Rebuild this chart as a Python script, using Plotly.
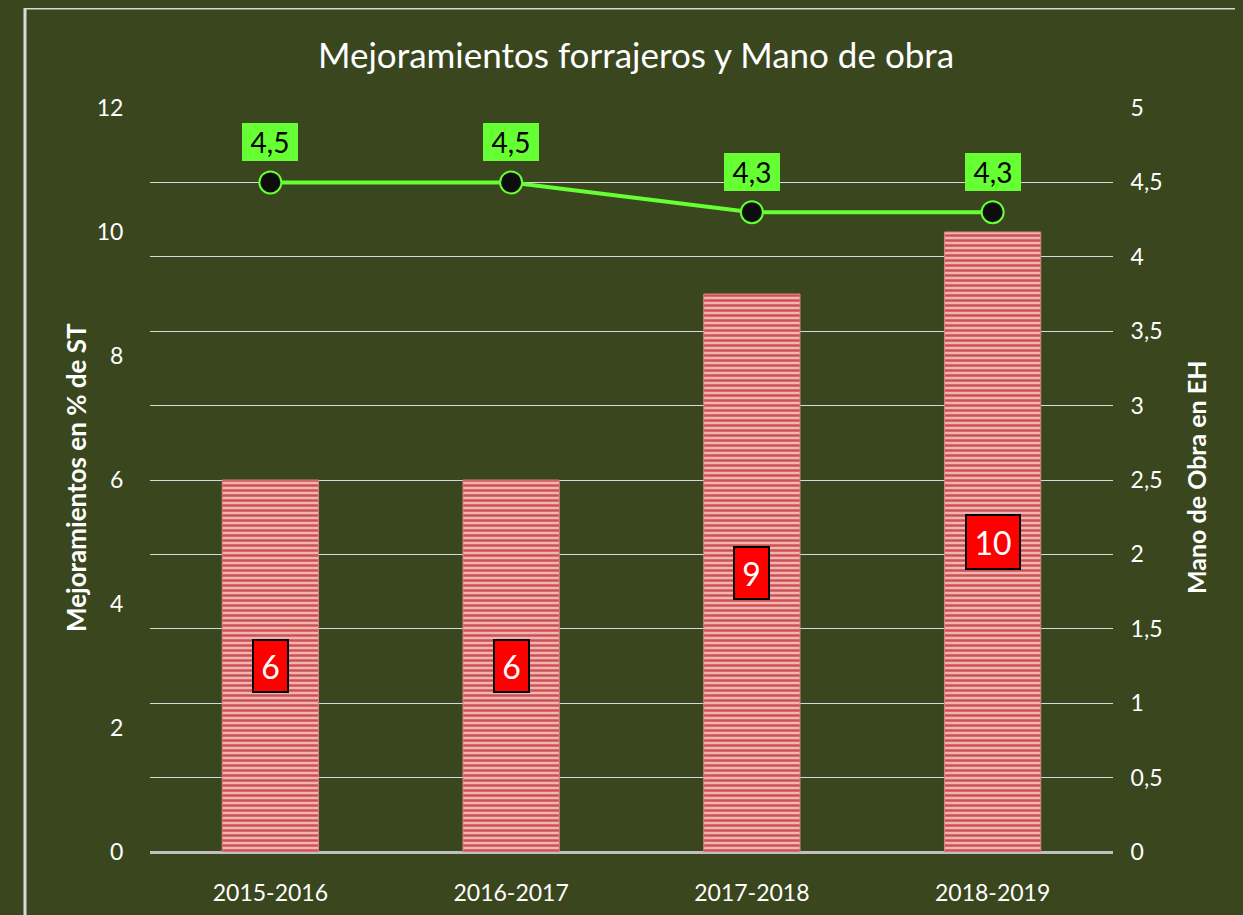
import plotly.graph_objects as go

categories = ["2015-2016", "2016-2017", "2017-2018", "2018-2019"]
mejoramientos = [6, 6, 9, 10]
mano_obra = [4.5, 4.5, 4.3, 4.3]
mano_obra_labels = ["4,5", "4,5", "4,3", "4,3"]

BG = "#3a461e"
GREEN = "#66ff33"
FONT = "Lato"

# page body has an 8px margin; figure is sized/offset to compensate
OFF = 8
W, H = 1243 - OFF, 915 - OFF
L = 150 - OFF
T = 108 - OFF
PW = 963
PH = 852 - 108
R = W - L - PW
B = H - T - PH


def px_x(p):  # window pixel -> paper
    return (p - OFF - L) / PW


def px_y(p):
    return (T + PH - (p - OFF)) / PH


fig = go.Figure()

fig.add_trace(go.Bar(
    x=categories, y=mejoramientos, yaxis="y",
    width=0.4,
    marker=dict(
        color="#eeb0b0",
        line=dict(color="#d98080", width=1),
        pattern=dict(shape="-", bgcolor="#f0b4b4", fgcolor="#cc5252",
                     size=5, solidity=0.5, fillmode="replace"),
    ),
    hoverinfo="skip", showlegend=False,
))

fig.add_trace(go.Scatter(
    x=categories, y=mano_obra, yaxis="y2", mode="lines+markers",
    line=dict(color=GREEN, width=4),
    marker=dict(size=22, color="#0d0d0d", line=dict(color=GREEN, width=2)),
    showlegend=False, hoverinfo="skip",
))

annotations = []
for c, v in zip(categories, mejoramientos):
    w = 52 if v >= 10 else 33
    h = 52 if v >= 10 else 50
    annotations.append(dict(
        x=c, y=v / 2, xref="x", yref="y", text=str(v), showarrow=False,
        font=dict(family=FONT, size=32, color="white"),
        bgcolor="#ff0000", bordercolor="#000000", borderwidth=2,
        width=w, height=h, borderpad=0,
    ))
for c, v, t in zip(categories, mano_obra, mano_obra_labels):
    annotations.append(dict(
        x=c, y=v, xref="x", yref="y2", text=t, showarrow=False,
        font=dict(family=FONT, size=28, color="black"),
        bgcolor=GREEN, borderwidth=0, width=56, height=38, borderpad=0,
        yshift=40,
    ))

annotations.append(dict(
    x=px_x(636), y=px_y(54), xref="paper", yref="paper",
    text="Mejoramientos forrajeros y Mano de obra", showarrow=False,
    font=dict(family=FONT, size=35, color="white"),
    xanchor="center", yanchor="middle",
))
annotations.append(dict(
    x=px_x(76), y=px_y(478), xref="paper", yref="paper",
    text="<b>Mejoramientos en % de ST</b>", showarrow=False, textangle=-90,
    font=dict(family=FONT, size=26, color="white"),
    xanchor="center", yanchor="middle",
))
annotations.append(dict(
    x=px_x(1196), y=px_y(478), xref="paper", yref="paper",
    text="<b>Mano de Obra en EH</b>", showarrow=False, textangle=-90,
    font=dict(family=FONT, size=25, color="white"),
    xanchor="center", yanchor="middle",
))

shapes = [
    dict(type="line", xref="paper", yref="paper",
         x0=px_x(25), x1=px_x(25), y0=px_y(8), y1=px_y(940),
         line=dict(color="#d9d9d9", width=3)),
    dict(type="line", xref="paper", yref="paper",
         x0=px_x(25), x1=px_x(1270), y0=px_y(8), y1=px_y(8),
         line=dict(color="#d9d9d9", width=3)),
]

fig.update_layout(
    width=W, height=H,
    margin=dict(l=L, r=R, t=T, b=B, autoexpand=False),
    paper_bgcolor=BG, plot_bgcolor=BG,
    separators=",.",
    font=dict(family=FONT, color="white", size=23),
    xaxis=dict(
        type="category", range=[-0.5, 3.5],
        showgrid=False, zeroline=False, showline=False,
        ticks="outside", ticklen=20, tickcolor="rgba(0,0,0,0)",
        tickfont=dict(family=FONT, size=23, color="white"),
    ),
    yaxis=dict(
        range=[0, 12], dtick=2, showgrid=False,
        zeroline=True, zerolinecolor="#bfbfbf", zerolinewidth=3,
        showline=False,
        ticks="outside", ticklen=21, tickcolor="rgba(0,0,0,0)",
        tickfont=dict(family=FONT, size=23, color="white"),
    ),
    yaxis2=dict(
        range=[0, 5], dtick=0.5, overlaying="y", side="right",
        showgrid=True, gridcolor="#d9d9d9", gridwidth=1,
        zeroline=False, showline=False,
        ticks="outside", ticklen=12, tickcolor="rgba(0,0,0,0)",
        tickfont=dict(family=FONT, size=23, color="white"),
    ),
    annotations=annotations,
    shapes=shapes,
    bargap=0.6,
)

fig.write_html(
    "out.html",
    post_script=(
        "document.documentElement.style.background='%s';"
        "document.body.style.background='%s';"
        "document.body.style.overflow='hidden';" % (BG, BG)
    ),
)
